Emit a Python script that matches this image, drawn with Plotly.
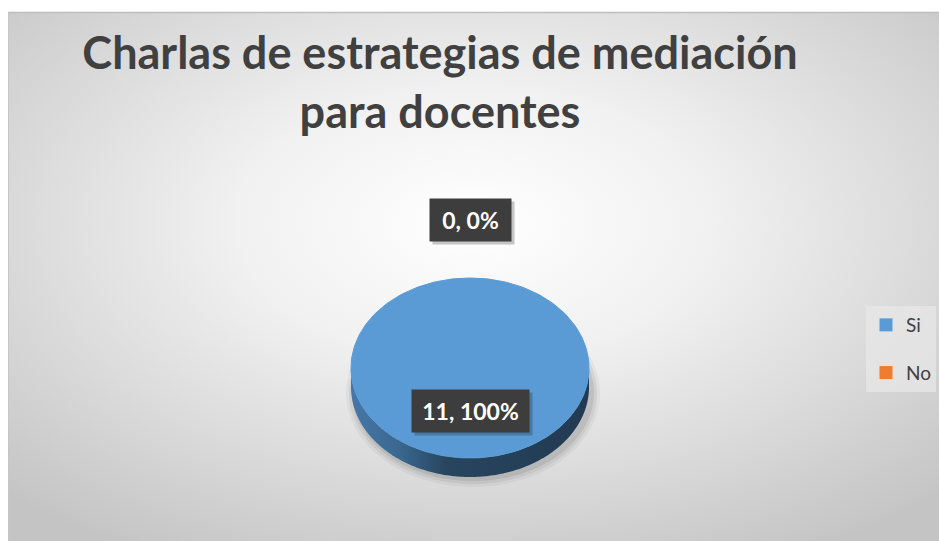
import base64

import numpy as np
import plotly.graph_objects as go


categories = ["Si", "No"]
values = [11, 0]
slice_colors = ["#5B9BD5", "#ED7D31"]
title_text = "Charlas de estrategias de mediación<br>para docentes"

W, H = 939, 541
# pie geometry in pixel units (y grows downward)
CX, CY, RX, RY, DEPTH = 470, 368, 119, 90, 19


def arc(a0, a1, dy=0.0, n=240):
  # angles in degrees, clockwise from 12 o'clock (Excel convention)
  t = np.radians(np.linspace(a0, a1, n))
  return CX + RX * np.sin(t), CY - RY * np.cos(t) + dy


total = float(sum(values))
starts = np.cumsum([0] + values[:-1]) / total * 360
ends = np.cumsum(values) / total * 360

fig = go.Figure()

# soft drop shadow under the pie (mostly below it)
for k, alpha in [(8, 0.04), (5, 0.06), (2, 0.08)]:
  t = np.radians(np.linspace(0, 360, 240))
  fig.add_trace(go.Scatter(
    x=CX + 3 + (RX + k) * np.sin(t),
    y=CY + DEPTH + 6 - (RY + k - 4) * np.cos(t),
    fill="toself", mode="none",
    fillcolor=f"rgba(0,0,0,{alpha})",
    hoverinfo="skip", showlegend=False,
  ))

# 3D side of each slice (only the front half is visible)
for a0, a1, val in zip(starts, ends, values):
  if val <= 0:
    continue
  s0, s1 = max(a0, 90), min(a1, 270)
  if s1 <= s0:
    continue
  xt, yt = arc(s0, s1)
  xb, yb = arc(s1, s0, dy=DEPTH)
  fig.add_trace(go.Scatter(
    x=np.concatenate([xt, xb]), y=np.concatenate([yt, yb]),
    fill="toself", mode="none",
    fillgradient=dict(
      type="horizontal",
      colorscale=[[0, "#4677a8"], [0.2, "#3a6890"], [0.4, "#28455f"], [1, "#223a52"]],
    ),
    hoverinfo="skip", showlegend=False,
  ))

# top faces
for a0, a1, val, col, name in zip(starts, ends, values, slice_colors, categories):
  if val <= 0:
    continue
  xs, ys = arc(a0, a1)
  if a1 - a0 < 360:
    xs = np.concatenate([[CX], xs, [CX]])
    ys = np.concatenate([[CY], ys, [CY]])
  fig.add_trace(go.Scatter(
    x=xs, y=ys, fill="toself", mode="lines",
    line=dict(color=col, width=1), fillcolor=col,
    name=name, hoverinfo="name", showlegend=False,
  ))

# legend entries
for i, (name, col) in enumerate(zip(categories, slice_colors)):
  fig.add_trace(go.Scatter(
    x=[None], y=[None], mode="markers", name=name,
    marker=dict(symbol="square", size=13, color=col),
    legendgroup=str(i),
  ))

# data labels "value, percent"
for a0, a1, val in zip(starts, ends, values):
  mid = np.radians((a0 + a1) / 2)
  r = 0.48 if val > 0 else 1.65
  lx = CX + r * RX * np.sin(mid)
  ly = CY - r * RY * np.cos(mid)
  txt = f"{val}, {val / total:.0%}"
  bw = 13 + 12 * len(txt)
  for dx, bg, t in [(3, "rgba(0,0,0,0.22)", " "), (0, "#3d3d3d", f"<b>{txt}</b>")]:
    fig.add_annotation(
      x=lx + dx, y=ly + dx, xref="x", yref="y", text=t, showarrow=False,
      bgcolor=bg, width=bw, height=34, borderpad=4,
      font=dict(family="Lato", size=23, color="white"),
    )

bg_svg = f"""<svg xmlns='http://www.w3.org/2000/svg' width='{W}' height='{H}'>
<defs><radialGradient id='g' cx='0.5' cy='0.4' r='0.72'>
<stop offset='0' stop-color='#ffffff'/>
<stop offset='0.35' stop-color='#f1f1f1'/>
<stop offset='1' stop-color='#c4c4c4'/>
</radialGradient></defs>
<rect x='0' y='0' width='{W}' height='{H}' fill='#ffffff'/>
<rect x='8' y='12' width='{W - 8}' height='{H - 12}' fill='url(#g)'/>
<line x1='8' y1='12.5' x2='{W}' y2='12.5' stroke='#bdbdbd' stroke-width='1.5'/>
<line x1='8.5' y1='12' x2='8.5' y2='{H}' stroke='#c6c6c6' stroke-width='1'/>
</svg>"""
bg_uri = "data:image/svg+xml;base64," + base64.b64encode(bg_svg.encode()).decode()

fig.update_layout(
  width=W, height=H,
  margin=dict(l=0, r=0, t=0, b=0),
  paper_bgcolor="white",
  plot_bgcolor="rgba(0,0,0,0)",
  images=[dict(
    source=bg_uri, xref="paper", yref="paper", x=0, y=1,
    sizex=1, sizey=1, sizing="stretch", xanchor="left", yanchor="top", layer="below",
  )],
  title=dict(
    text=f"<b>{title_text}</b>",
    x=440 / W, xanchor="center", xref="container",
    y=1 - 69 / H, yanchor="top", yref="container",
    font=dict(family="Lato", size=45, color="#404040"),
  ),
  legend=dict(
    x=866 / W, y=1 - 306 / H, xanchor="left", yanchor="top",
    bgcolor="rgba(232,232,232,0.7)",
    font=dict(family="Lato", size=19, color="#404040"),
    itemwidth=30, tracegroupgap=20,
  ),
  xaxis=dict(range=[0, W], visible=False, fixedrange=True),
  yaxis=dict(range=[H, 0], visible=False, fixedrange=True),
)

fig.write_html(
  "out.html",
  config={"displayModeBar": False},
  post_script="document.body.style.margin='0';document.body.style.overflow='hidden';",
)
